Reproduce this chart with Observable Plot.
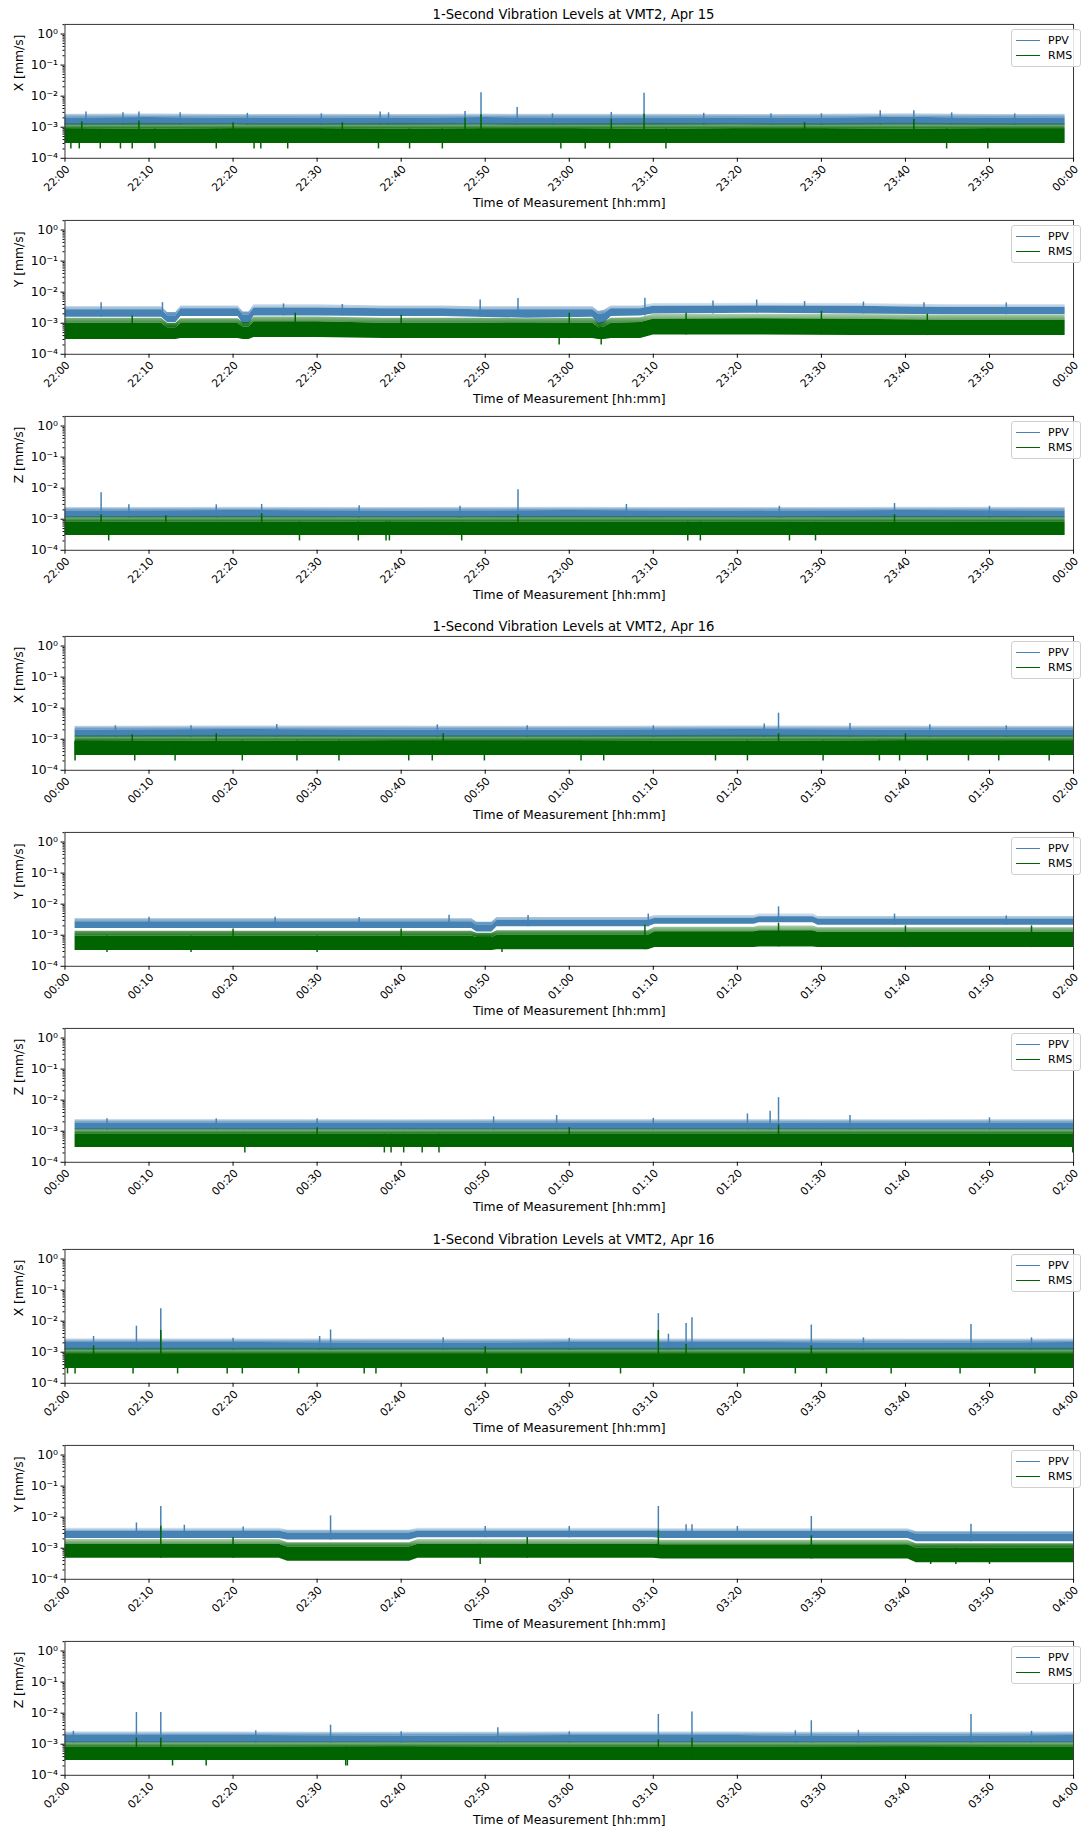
<!DOCTYPE html>
<html><head><meta charset="utf-8">
<script src="https://cdn.jsdelivr.net/npm/d3@7"></script>
<script src="https://cdn.jsdelivr.net/npm/@observablehq/plot@0.6"></script>
<style>
html,body{margin:0;padding:0;background:#fff;}
body{width:1081px;height:1828px;overflow:hidden;font-family:"DejaVu Sans",sans-serif;}
#root{position:relative;width:1081px;height:1828px;overflow:hidden;}
.title{position:absolute;left:65px;width:1017px;text-align:center;font-size:13.2px;line-height:16px;color:#000;white-space:nowrap;}
.panel{position:absolute;left:0;}
.legend{position:absolute;left:1011px;width:68px;height:36px;border:1px solid #cfcfcf;border-radius:3px;background:rgba(255,255,255,0.85);font-size:11px;color:#000;}
.legend .row{position:absolute;left:4px;height:14px;line-height:14px;white-space:nowrap;}
.legend .sw{display:inline-block;width:24px;height:0;border-top:1.6px solid;vertical-align:middle;margin-right:8px;position:relative;top:-1px;}
</style></head>
<body>
<svg width="0" height="0" style="position:absolute">
  <defs>
    <linearGradient id="gradPPV" x1="0" y1="1" x2="0" y2="0">
      <stop offset="0" stop-color="#4682b4" stop-opacity="0.92"/>
      <stop offset="1" stop-color="#4682b4" stop-opacity="0.2"/>
    </linearGradient>
    <linearGradient id="gradRMS" x1="0" y1="1" x2="0" y2="0">
      <stop offset="0" stop-color="#006400" stop-opacity="0.95"/>
      <stop offset="1" stop-color="#006400" stop-opacity="0.3"/>
    </linearGradient>
  </defs>
</svg>
<div id="root"></div>
<script>
// ---------- labels ----------
const groupTitles = ["1-Second Vibration Levels at VMT2, Apr 15", "1-Second Vibration Levels at VMT2, Apr 16", "1-Second Vibration Levels at VMT2, Apr 16"];
const groupStarts = ["2023-04-15T22:00:00Z", "2023-04-16T00:00:00Z", "2023-04-16T02:00:00Z"];
const axisNames = ["X", "Y", "Z"];
const seriesNames = ["PPV", "RMS"];
const xLabel = "Time of Measurement [hh:mm]";
const xTickMinutes = [0, 10, 20, 30, 40, 50, 60, 70, 80, 90, 100, 110, 120];
const yTicks = [1e-4, 1e-3, 1e-2, 1e-1, 1];
const yTickLabels = ["10⁻⁴", "10⁻³", "10⁻²", "10⁻¹", "10⁰"];
const yMinorTicks = [2e-4,3e-4,4e-4,5e-4,6e-4,7e-4,8e-4,9e-4, 2e-3,3e-3,4e-3,5e-3,6e-3,7e-3,8e-3,9e-3, 2e-2,3e-2,4e-2,5e-2,6e-2,7e-2,8e-2,9e-2, 0.2,0.3,0.4,0.5,0.6,0.7,0.8,0.9, 2];

// ---------- data (minutes from panel start, values in mm/s) ----------
// Each series: Lo/Hi = dense body of the 1-s trace, Max = top of the many small peaks.
// Panel 1: X, Apr 15 22:00-00:00
const p1_t      = [0, 10, 20, 30, 40, 50, 60, 70, 80, 90, 100, 110, 119];
const p1_ppvLo  = [0.00115,0.00115,0.00117,0.00115,0.00115,0.00117,0.00115,0.00115,0.00117,0.00115,0.00117,0.00115,0.00115];
const p1_ppvHi  = [0.00200,0.00205,0.00195,0.00200,0.00195,0.00205,0.00200,0.00200,0.00195,0.00200,0.00210,0.00195,0.00200];
const p1_ppvMax = [0.00260,0.00270,0.00255,0.00260,0.00255,0.00265,0.00260,0.00260,0.00255,0.00260,0.00275,0.00255,0.00260];
const p1_rmsLo  = [0.00030,0.00030,0.00030,0.00030,0.00030,0.00030,0.00030,0.00030,0.00030,0.00030,0.00030,0.00030,0.00030];
const p1_rmsHi  = [0.00085,0.00088,0.00085,0.00085,0.00088,0.00085,0.00085,0.00088,0.00085,0.00085,0.00088,0.00085,0.00085];
const p1_rmsMax = [0.00130,0.00135,0.00130,0.00130,0.00135,0.00130,0.00130,0.00135,0.00130,0.00130,0.00135,0.00130,0.00130];
const p1_ppvSpikes = [[2.5,0.0031],[6.9,0.0029],[8.8,0.0031],[13.7,0.0029],[21.7,0.0028],[30.5,0.0027],[37.5,0.0031],[38.5,0.0029],[47.6,0.0032],[49.5,0.0130],[53.8,0.0043],[58,0.0027],[65.0,0.0030],[68.9,0.0125],[76.0,0.0028],[84,0.0027],[90,0.0027],[97.0,0.0034],[101.0,0.0034],[105.5,0.0029],[113,0.0027]];
const p1_rmsPeaks = [[2,0.0015],[8.8,0.0016],[20,0.0014],[33,0.0014],[47.6,0.0020],[49.5,0.0025],[65.0,0.0018],[68.9,0.0026],[88,0.0014],[101.0,0.0018]];
const p1_rmsDips = [[0.7,0.0002],[1.7,0.0002],[4.2,0.0002],[6.6,0.0002],[8.0,0.0002],[10.7,0.0002],[18.0,0.0002],[22.5,0.0002],[23.3,0.0002],[26.5,0.0002],[37.3,0.0002],[41.0,0.0002],[44.9,0.0002],[59.0,0.0002],[61.9,0.0002],[64.8,0.0002],[71.5,0.0002],[104.9,0.0002],[109.8,0.0002]];

// Panel 2: Y, Apr 15
const p2_t      = [0, 5, 11.5, 12.2, 13.2, 13.8, 17, 20.6, 21.2, 21.9, 22.5, 30, 38, 45, 49, 55, 62.8, 63.5, 64.2, 65, 68.5, 70, 82, 94, 105, 119];
const p2_ppvLo  = [0.00156,0.00156,0.00156,0.00105,0.00105,0.00164,0.00164,0.00164,0.00095,0.00095,0.00172,0.00172,0.00164,0.00164,0.00156,0.00145,0.00156,0.00088,0.00100,0.00164,0.00172,0.00200,0.00210,0.00200,0.00186,0.00186];
const p2_ppvHi  = [0.00270,0.00270,0.00270,0.00175,0.00175,0.00290,0.00290,0.00290,0.00185,0.00185,0.00310,0.00310,0.00290,0.00290,0.00270,0.00270,0.00270,0.00195,0.00205,0.00290,0.00290,0.00350,0.00360,0.00350,0.00320,0.00320];
const p2_ppvMax = [0.00340,0.00340,0.00340,0.00220,0.00220,0.00360,0.00360,0.00360,0.00230,0.00230,0.00390,0.00390,0.00360,0.00360,0.00340,0.00340,0.00340,0.00240,0.00260,0.00360,0.00360,0.00430,0.00440,0.00430,0.00390,0.00390];
const p2_rmsLo  = [0.00030,0.00030,0.00030,0.00030,0.00030,0.00032,0.00032,0.00032,0.00030,0.00030,0.00035,0.00035,0.00032,0.00032,0.00032,0.00032,0.00032,0.00030,0.00030,0.00032,0.00032,0.00042,0.00042,0.00040,0.00040,0.00040];
const p2_rmsHi  = [0.00100,0.00100,0.00100,0.00072,0.00072,0.00098,0.00098,0.00098,0.00075,0.00075,0.00112,0.00112,0.00100,0.00100,0.00100,0.00098,0.00100,0.00072,0.00076,0.00100,0.00105,0.00135,0.00140,0.00135,0.00125,0.00125];
const p2_rmsMax = [0.00145,0.00145,0.00145,0.00100,0.00100,0.00140,0.00140,0.00140,0.00105,0.00105,0.00160,0.00160,0.00145,0.00145,0.00145,0.00140,0.00145,0.00100,0.00110,0.00145,0.00150,0.00190,0.00195,0.00190,0.00180,0.00180];
const p2_ppvSpikes = [[4.3,0.0046],[11.6,0.0046],[26,0.0042],[33,0.0040],[49.4,0.0056],[53.9,0.0062],[69,0.0064],[77.1,0.0052],[82.3,0.0056],[88,0.0050],[95,0.0048],[102.2,0.0046],[112,0.0045]];
const p2_rmsPeaks = [[8,0.0017],[27.4,0.0021],[40,0.0018],[60,0.0021],[73.9,0.0021],[90,0.0024],[102.6,0.00195]];
const p2_rmsDips = [[58.8,0.0002],[63.8,0.0002]];

// Panel 3: Z, Apr 15
const p3_t      = [0, 20, 40, 60, 80, 100, 119];
const p3_ppvLo  = [0.00110,0.00110,0.00110,0.00110,0.00110,0.00110,0.00110];
const p3_ppvHi  = [0.00185,0.00190,0.00185,0.00190,0.00185,0.00190,0.00185];
const p3_ppvMax = [0.00240,0.00245,0.00240,0.00245,0.00240,0.00245,0.00240];
const p3_rmsLo  = [0.00030,0.00030,0.00030,0.00030,0.00030,0.00030,0.00030];
const p3_rmsHi  = [0.00080,0.00082,0.00080,0.00082,0.00080,0.00082,0.00080];
const p3_rmsMax = [0.00120,0.00125,0.00120,0.00125,0.00120,0.00125,0.00120];
const p3_ppvSpikes = [[4.3,0.0071],[7.6,0.0029],[18,0.0029],[23.4,0.0030],[35,0.0027],[47,0.0026],[53.9,0.0089],[66.8,0.0030],[85,0.0026],[98.7,0.0032],[110,0.0026]];
const p3_rmsPeaks = [[4.3,0.0014],[12,0.0013],[23.4,0.0015],[53.9,0.0014],[98.7,0.0014]];
const p3_rmsDips = [[5.2,0.0002],[27.9,0.0002],[34.9,0.0002],[38.2,0.0002],[38.6,0.0002],[47.2,0.0002],[74.1,0.0002],[75.6,0.0002],[86.2,0.0002],[89.3,0.0002]];

// Panel 4: X, Apr 16 00:00-02:00
const p4_t      = [1.2, 20, 40, 60, 80, 100, 120];
const p4_ppvLo  = [0.00115,0.00115,0.00115,0.00115,0.00115,0.00115,0.00115];
const p4_ppvHi  = [0.00200,0.00205,0.00200,0.00200,0.00205,0.00200,0.00200];
const p4_ppvMax = [0.00260,0.00270,0.00265,0.00260,0.00270,0.00265,0.00260];
const p4_rmsLo  = [0.00030,0.00030,0.00030,0.00030,0.00030,0.00030,0.00030];
const p4_rmsHi  = [0.00085,0.00088,0.00085,0.00085,0.00088,0.00085,0.00085];
const p4_rmsMax = [0.00130,0.00135,0.00130,0.00130,0.00135,0.00130,0.00130];
const p4_ppvSpikes = [[6,0.0027],[15,0.0027],[25.2,0.0030],[44.3,0.0029],[55,0.0027],[70,0.0027],[83.2,0.0031],[84.9,0.0069],[93.4,0.0032],[102.9,0.0029],[112,0.0027]];
const p4_rmsPeaks = [[8,0.0014],[18,0.0015],[45,0.0015],[84.9,0.0015],[100,0.0015]];
const p4_rmsDips = [[1.2,0.0002],[8.3,0.0002],[13.1,0.0002],[21.1,0.0002],[27.6,0.0002],[32.6,0.0002],[40.9,0.0002],[43.7,0.0002],[49.9,0.0002],[61.4,0.0002],[64.1,0.0002],[77.4,0.0002],[81.2,0.0002],[90.2,0.0002],[96.9,0.0002],[99.3,0.0002],[102.6,0.0002],[107.5,0.0002],[111.1,0.0002],[117.1,0.0002]];

// Panel 5: Y, Apr 16 00:00-02:00
const p5_t      = [1.2, 20, 40, 48.4, 49, 50.8, 51.4, 60, 69.4, 70.2, 76, 82, 82.6, 89, 89.6, 100, 110, 120];
const p5_ppvLo  = [0.00164,0.00164,0.00164,0.00164,0.00128,0.00128,0.00186,0.00186,0.00186,0.00226,0.00226,0.00226,0.00250,0.00250,0.00210,0.00210,0.00210,0.00210];
const p5_ppvHi  = [0.00270,0.00270,0.00270,0.00270,0.00210,0.00210,0.00300,0.00300,0.00300,0.00350,0.00350,0.00350,0.00390,0.00390,0.00330,0.00330,0.00330,0.00330];
const p5_ppvMax = [0.00340,0.00340,0.00340,0.00340,0.00260,0.00260,0.00370,0.00370,0.00370,0.00430,0.00430,0.00430,0.00490,0.00490,0.00400,0.00400,0.00400,0.00400];
const p5_rmsLo  = [0.00032,0.00032,0.00032,0.00032,0.00032,0.00032,0.00034,0.00034,0.00034,0.00040,0.00040,0.00040,0.00042,0.00042,0.00040,0.00040,0.00040,0.00040];
const p5_rmsHi  = [0.00095,0.00095,0.00095,0.00095,0.00085,0.00085,0.00100,0.00100,0.00100,0.00130,0.00130,0.00130,0.00140,0.00140,0.00125,0.00125,0.00125,0.00125];
const p5_rmsMax = [0.00135,0.00135,0.00135,0.00135,0.00115,0.00115,0.00140,0.00140,0.00140,0.00180,0.00180,0.00180,0.00200,0.00200,0.00175,0.00175,0.00175,0.00175];
const p5_ppvSpikes = [[10,0.0038],[25,0.0038],[35,0.0037],[45.7,0.0044],[55.1,0.0043],[69.4,0.0048],[84.9,0.0082],[98.7,0.0048],[112,0.0042]];
const p5_rmsPeaks = [[20,0.0016],[40,0.0016],[69,0.0021],[84.9,0.0024],[100,0.0020],[115,0.0020]];
const p5_rmsDips = [[5,0.00028],[15,0.00028],[30,0.00028],[52,0.00028]];

// Panel 6: Z, Apr 16 00:00-02:00
const p6_t      = [1.2, 20, 40, 60, 80, 100, 120];
const p6_ppvLo  = [0.00110,0.00110,0.00110,0.00110,0.00110,0.00110,0.00110];
const p6_ppvHi  = [0.00185,0.00185,0.00182,0.00185,0.00185,0.00182,0.00185];
const p6_ppvMax = [0.00240,0.00240,0.00235,0.00240,0.00240,0.00235,0.00240];
const p6_rmsLo  = [0.00030,0.00030,0.00030,0.00030,0.00030,0.00030,0.00030];
const p6_rmsHi  = [0.00080,0.00080,0.00080,0.00080,0.00080,0.00080,0.00080];
const p6_rmsMax = [0.00120,0.00120,0.00120,0.00120,0.00120,0.00120,0.00120];
const p6_ppvSpikes = [[5,0.0025],[18,0.0025],[30,0.0025],[51.0,0.0029],[58.5,0.0032],[70,0.0026],[81.2,0.0036],[83.9,0.0044],[84.9,0.0120],[93.4,0.0032],[110,0.0027]];
const p6_rmsPeaks = [[30,0.0013],[60,0.0013],[84.9,0.0016]];
const p6_rmsDips = [[21.4,0.0002],[38.0,0.0002],[38.8,0.0002],[40.3,0.0002],[42.5,0.0002],[44.5,0.0002],[119.9,0.0002]];

// Panel 7: X, Apr 16 02:00-04:00
const p7_t      = [0, 20, 40, 60, 80, 100, 120];
const p7_ppvLo  = [0.00115,0.00115,0.00115,0.00115,0.00115,0.00115,0.00115];
const p7_ppvHi  = [0.00205,0.00205,0.00200,0.00205,0.00205,0.00200,0.00205];
const p7_ppvMax = [0.00270,0.00270,0.00265,0.00270,0.00270,0.00265,0.00270];
const p7_rmsLo  = [0.00030,0.00030,0.00030,0.00030,0.00030,0.00030,0.00030];
const p7_rmsHi  = [0.00085,0.00085,0.00085,0.00085,0.00085,0.00085,0.00085];
const p7_rmsMax = [0.00135,0.00135,0.00135,0.00135,0.00135,0.00135,0.00135];
const p7_ppvSpikes = [[3.4,0.0032],[8.5,0.0069],[11.4,0.0250],[20,0.0028],[30.3,0.0032],[31.6,0.0052],[45,0.0029],[60,0.0028],[70.6,0.0175],[71.8,0.0038],[73.9,0.0084],[74.6,0.0130],[88.8,0.0075],[95,0.0029],[107.8,0.0078],[115,0.0029]];
const p7_rmsPeaks = [[3.4,0.0016],[11.4,0.0050],[50,0.0015],[70.6,0.0050],[73.9,0.0018],[88.8,0.0016]];
const p7_rmsDips = [[0.3,0.0002],[1.2,0.0002],[8.1,0.0002],[13.4,0.0002],[19.3,0.0002],[21.1,0.0002],[27.8,0.0002],[35.6,0.0002],[37.0,0.0002],[50.2,0.0002],[54.3,0.0002],[66.1,0.0002],[80.8,0.0002],[86.9,0.0002],[90.6,0.0002],[98.3,0.0002],[106.5,0.0002],[115.4,0.0002]];

// Panel 8: Y, Apr 16 02:00-04:00
const p8_t      = [0, 25.5, 26.5, 41, 42, 70, 71, 100.3, 101.3, 120];
const p8_ppvLo  = [0.00207,0.00207,0.00183,0.00183,0.00217,0.00217,0.00207,0.00207,0.00162,0.00162];
const p8_ppvHi  = [0.00360,0.00360,0.00310,0.00310,0.00360,0.00360,0.00350,0.00350,0.00280,0.00280];
const p8_ppvMax = [0.00440,0.00440,0.00380,0.00380,0.00440,0.00440,0.00420,0.00420,0.00340,0.00340];
const p8_rmsLo  = [0.00048,0.00048,0.00038,0.00038,0.00048,0.00048,0.00045,0.00045,0.00034,0.00034];
const p8_rmsHi  = [0.00135,0.00135,0.00110,0.00110,0.00135,0.00135,0.00130,0.00130,0.00100,0.00100];
const p8_rmsMax = [0.00190,0.00190,0.00150,0.00150,0.00190,0.00190,0.00180,0.00180,0.00140,0.00140];
const p8_ppvSpikes = [[8.5,0.0065],[11.4,0.0220],[14.2,0.0055],[21.2,0.0048],[31.6,0.0110],[50,0.0050],[60,0.0050],[70.6,0.0220],[73.9,0.0057],[74.6,0.0057],[80,0.0050],[88.8,0.0105],[107.8,0.0059]];
const p8_rmsPeaks = [[11.4,0.0051],[20,0.0022],[55,0.0022],[70.6,0.0038],[88.8,0.0025]];
const p8_rmsDips = [[49.4,0.0003],[103,0.0003],[106,0.0003],[110,0.0003]];

// Panel 9: Z, Apr 16 02:00-04:00
const p9_t      = [0, 20, 40, 60, 80, 100, 120];
const p9_ppvLo  = [0.00110,0.00110,0.00110,0.00110,0.00110,0.00110,0.00110];
const p9_ppvHi  = [0.00190,0.00190,0.00185,0.00190,0.00190,0.00185,0.00190];
const p9_ppvMax = [0.00250,0.00250,0.00245,0.00250,0.00250,0.00245,0.00250];
const p9_rmsLo  = [0.00030,0.00030,0.00030,0.00030,0.00030,0.00030,0.00030];
const p9_rmsHi  = [0.00080,0.00080,0.00078,0.00080,0.00080,0.00078,0.00080];
const p9_rmsMax = [0.00120,0.00120,0.00118,0.00120,0.00120,0.00118,0.00120];
const p9_ppvSpikes = [[1,0.0026],[8.5,0.0105],[11.4,0.0105],[22.7,0.0027],[31.6,0.0041],[40,0.0025],[51.5,0.0034],[60,0.0025],[70.6,0.0091],[74.6,0.0110],[86.9,0.0027],[88.8,0.0057],[94.4,0.0028],[107.8,0.0091],[115,0.0026]];
const p9_rmsPeaks = [[8.5,0.0016],[11.4,0.0016],[70.6,0.0014],[74.6,0.0016]];
const p9_rmsDips = [[12.8,0.0002],[16.8,0.0002],[33.4,0.0002],[33.6,0.0002]];

const panels = [
  {g:0,a:0,t:p1_t,ppvLo:p1_ppvLo,ppvHi:p1_ppvHi,ppvMax:p1_ppvMax,rmsLo:p1_rmsLo,rmsHi:p1_rmsHi,rmsMax:p1_rmsMax,ppvSpikes:p1_ppvSpikes,rmsPeaks:p1_rmsPeaks,rmsDips:p1_rmsDips},
  {g:0,a:1,t:p2_t,ppvLo:p2_ppvLo,ppvHi:p2_ppvHi,ppvMax:p2_ppvMax,rmsLo:p2_rmsLo,rmsHi:p2_rmsHi,rmsMax:p2_rmsMax,ppvSpikes:p2_ppvSpikes,rmsPeaks:p2_rmsPeaks,rmsDips:p2_rmsDips},
  {g:0,a:2,t:p3_t,ppvLo:p3_ppvLo,ppvHi:p3_ppvHi,ppvMax:p3_ppvMax,rmsLo:p3_rmsLo,rmsHi:p3_rmsHi,rmsMax:p3_rmsMax,ppvSpikes:p3_ppvSpikes,rmsPeaks:p3_rmsPeaks,rmsDips:p3_rmsDips},
  {g:1,a:0,t:p4_t,ppvLo:p4_ppvLo,ppvHi:p4_ppvHi,ppvMax:p4_ppvMax,rmsLo:p4_rmsLo,rmsHi:p4_rmsHi,rmsMax:p4_rmsMax,ppvSpikes:p4_ppvSpikes,rmsPeaks:p4_rmsPeaks,rmsDips:p4_rmsDips},
  {g:1,a:1,t:p5_t,ppvLo:p5_ppvLo,ppvHi:p5_ppvHi,ppvMax:p5_ppvMax,rmsLo:p5_rmsLo,rmsHi:p5_rmsHi,rmsMax:p5_rmsMax,ppvSpikes:p5_ppvSpikes,rmsPeaks:p5_rmsPeaks,rmsDips:p5_rmsDips},
  {g:1,a:2,t:p6_t,ppvLo:p6_ppvLo,ppvHi:p6_ppvHi,ppvMax:p6_ppvMax,rmsLo:p6_rmsLo,rmsHi:p6_rmsHi,rmsMax:p6_rmsMax,ppvSpikes:p6_ppvSpikes,rmsPeaks:p6_rmsPeaks,rmsDips:p6_rmsDips},
  {g:2,a:0,t:p7_t,ppvLo:p7_ppvLo,ppvHi:p7_ppvHi,ppvMax:p7_ppvMax,rmsLo:p7_rmsLo,rmsHi:p7_rmsHi,rmsMax:p7_rmsMax,ppvSpikes:p7_ppvSpikes,rmsPeaks:p7_rmsPeaks,rmsDips:p7_rmsDips},
  {g:2,a:1,t:p8_t,ppvLo:p8_ppvLo,ppvHi:p8_ppvHi,ppvMax:p8_ppvMax,rmsLo:p8_rmsLo,rmsHi:p8_rmsHi,rmsMax:p8_rmsMax,ppvSpikes:p8_ppvSpikes,rmsPeaks:p8_rmsPeaks,rmsDips:p8_rmsDips},
  {g:2,a:2,t:p9_t,ppvLo:p9_ppvLo,ppvHi:p9_ppvHi,ppvMax:p9_ppvMax,rmsLo:p9_rmsLo,rmsHi:p9_rmsHi,rmsMax:p9_rmsMax,ppvSpikes:p9_ppvSpikes,rmsPeaks:p9_rmsPeaks,rmsDips:p9_rmsDips}
];

// ---------- layout & style ----------
const PPV_COLOR = "#4682b4", RMS_COLOR = "#006400";
const titleCenterY = [15, 627, 1240];
const panelTops = [24, 220, 416, 636, 832, 1028, 1249, 1445, 1641];
const PH = 135, MT = 10, MB = 62, ML = 65, MR = 8, W = 1090;

const root = document.getElementById("root");
groupTitles.forEach((txt, g) => {
  const d = document.createElement("div");
  d.className = "title";
  d.style.top = (titleCenterY[g] - 8) + "px";
  d.textContent = txt;
  root.appendChild(d);
});

function stepLookup(ts, vals, m) {
  const i = Math.max(0, d3.bisectRight(ts, m) - 1);
  return vals[i];
}

panels.forEach((p, k) => {
  const t0 = new Date(groupStarts[p.g]);
  const T = m => new Date(+t0 + m * 60000);
  const env = p.t.map((m, i) => ({x: T(m), pl: p.ppvLo[i], ph: p.ppvHi[i], pm: p.ppvMax[i], rl: p.rmsLo[i], rh: p.rmsHi[i], rm: p.rmsMax[i]}));
  const ppvSp = p.ppvSpikes.map(([m, v]) => ({x: T(m), b: stepLookup(p.t, p.ppvLo, m), v}));
  const rmsPk = p.rmsPeaks.map(([m, v]) => ({x: T(m), b: stepLookup(p.t, p.rmsLo, m), v}));
  const rmsDp = p.rmsDips.map(([m, v]) => ({x: T(m), b: stepLookup(p.t, p.rmsHi, m), v}));
  const svg = Plot.plot({
    width: W, height: PH + MT + MB,
    marginTop: MT, marginBottom: MB, marginLeft: ML, marginRight: MR,
    style: {fontFamily: "'DejaVu Sans', sans-serif", fontSize: "11px", color: "#000", background: "transparent", overflow: "visible"},
    x: {type: "utc", domain: [T(0), T(120)]},
    y: {type: "log", domain: [1e-4, 2.04]},
    marks: [
      Plot.areaY(env, {x: "x", y1: "ph", y2: "pm", fill: "url(#gradPPV)"}),
      Plot.areaY(env, {x: "x", y1: "pl", y2: "ph", fill: PPV_COLOR}),
      Plot.ruleX(ppvSp, {x: "x", y1: "b", y2: "v", stroke: PPV_COLOR, strokeWidth: 1.5}),
      Plot.areaY(env, {x: "x", y1: "rh", y2: "rm", fill: "url(#gradRMS)"}),
      Plot.areaY(env, {x: "x", y1: "rl", y2: "rh", fill: RMS_COLOR}),
      Plot.ruleX(rmsPk, {x: "x", y1: "b", y2: "v", stroke: RMS_COLOR, strokeWidth: 1.5}),
      Plot.ruleX(rmsDp, {x: "x", y1: "b", y2: "v", stroke: RMS_COLOR, strokeWidth: 1.5}),
      Plot.frame({stroke: "#333", strokeWidth: 1}),
      Plot.axisX({ticks: xTickMinutes.map(T), tickFormat: d3.utcFormat("%H:%M"), tickRotate: -45, tickSize: 4, tickPadding: 2, textAnchor: "end", lineAnchor: "top", label: null, fontSize: 11}),
      Plot.axisY({ticks: yTicks, tickFormat: d => yTickLabels[yTicks.indexOf(d)], tickSize: 4, tickPadding: 3, label: null, fontSize: 12.5}),
      Plot.axisY({ticks: yMinorTicks, tickFormat: () => "", tickSize: 2, label: null}),
      Plot.text([xLabel], {frameAnchor: "bottom", dy: 49, text: d => d, fontSize: 12.5}),
      Plot.text([axisNames[p.a] + " [mm/s]"], {frameAnchor: "left", dx: -46, rotate: -90, text: d => d, fontSize: 12.5})
    ]
  });
  const wrap = document.createElement("div");
  wrap.className = "panel";
  wrap.style.top = (panelTops[k] - MT) + "px";
  wrap.appendChild(svg);
  root.appendChild(wrap);

  const lg = document.createElement("div");
  lg.className = "legend";
  lg.style.top = (panelTops[k] + 5) + "px";
  [PPV_COLOR, RMS_COLOR].forEach((c, i) => {
    const r = document.createElement("div");
    r.className = "row";
    r.style.top = (4 + i * 15) + "px";
    r.innerHTML = `<span class="sw" style="border-color:${c}"></span>${seriesNames[i]}`;
    lg.appendChild(r);
  });
  root.appendChild(lg);
});
</script>
</body></html>
